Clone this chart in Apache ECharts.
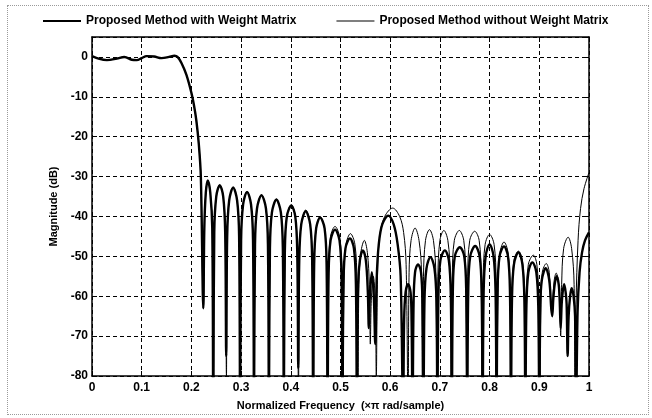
<!DOCTYPE html>
<html><head><meta charset="utf-8">
<script src="https://cdn.jsdelivr.net/npm/echarts@6/dist/echarts.min.js"></script>
<style>
html,body{margin:0;padding:0;background:#fff;}
#c{width:652px;height:418px;}
#frame{position:absolute;left:7px;top:5px;width:640px;height:408px;border:1px dotted #9a9a9a;pointer-events:none;}
</style></head>
<body><div id="c"></div><div id="frame"></div>
<script>
const legendNames = ['Proposed Method with Weight Matrix', 'Proposed Method without Weight Matrix'];
const xTicks = [0, 0.1, 0.2, 0.3, 0.4, 0.5, 0.6, 0.7, 0.8, 0.9, 1];
const yTicks = [-80, -70, -60, -50, -40, -30, -20, -10, 0];

const passband = [[0,0.2],[0.015,-0.5],[0.03,-0.8],[0.05,-0.4],[0.065,0],[0.08,-0.7],[0.09,-0.8],[0.1,-0.3],[0.11,0.2],[0.125,0.1],[0.14,-0.3],[0.155,0],[0.166,0.3],[0.172,0],[0.18,-1.5],[0.19,-4.5],[0.2,-9],[0.205,-12],[0.21,-16],[0.215,-22],[0.219,-30],[0.224,-63]];

const withWeightStop = [
[0.226,-43],[0.229,-34],[0.233,-31],[0.238,-34],[0.242,-43],[0.244,-90],
[0.246,-44],[0.250,-35],[0.257,-32.2],[0.264,-35],[0.268,-44],[0.270,-75],
[0.272,-45],[0.276,-36],[0.284,-32.8],[0.292,-36],[0.296,-45],[0.298,-90],
[0.300,-46],[0.304,-37],[0.312,-33.9],[0.320,-37],[0.324,-46],[0.326,-90],
[0.328,-47],[0.332,-38],[0.341,-34.7],[0.350,-38],[0.354,-47],[0.356,-90],
[0.358,-48],[0.362,-39],[0.371,-35.8],[0.380,-39],[0.384,-48],[0.386,-90],
[0.388,-49],[0.392,-40],[0.401,-37.3],[0.409,-40],[0.413,-49],[0.415,-78],
[0.417,-51],[0.421,-42],[0.430,-38.7],[0.439,-42],[0.443,-51],[0.445,-90],
[0.447,-52],[0.451,-43],[0.459,-40.3],[0.468,-43],[0.472,-52],[0.474,-90],
[0.476,-55],[0.480,-46],[0.489,-43.3],[0.498,-46],[0.502,-55],[0.504,-90],
[0.506,-57],[0.510,-48],[0.519,-45.5],[0.527,-48],[0.531,-57],[0.533,-90],
[0.535,-59],[0.539,-51],[0.545,-48.5],[0.551,-51],[0.555,-59],[0.557,-68],
[0.559,-60],[0.563,-54],[0.567,-60],[0.570,-72],
[0.573,-55],[0.577,-47],[0.584,-42],[0.596,-39.8],[0.607,-42],[0.615,-47],[0.621,-55],[0.626,-90],
[0.628,-66],[0.631,-59],[0.636,-57],[0.641,-59],[0.643,-66],[0.645,-90],
[0.647,-62],[0.650,-54],[0.656,-52],[0.662,-54],[0.665,-62],[0.667,-90],
[0.669,-61],[0.673,-53],[0.681,-50.2],[0.689,-53],[0.693,-61],[0.695,-90],
[0.697,-60],[0.701,-51],[0.710,-48.5],[0.718,-51],[0.722,-60],[0.724,-90],
[0.726,-59],[0.730,-50],[0.740,-47.7],[0.749,-50],[0.753,-59],[0.755,-90],
[0.757,-59],[0.761,-50],[0.771,-47.4],[0.780,-50],[0.784,-59],[0.786,-90],
[0.788,-59],[0.792,-50],[0.800,-47],[0.808,-50],[0.812,-59],[0.814,-90],
[0.816,-59],[0.820,-50],[0.829,-47.5],[0.837,-50],[0.841,-59],[0.843,-90],
[0.845,-61],[0.849,-52],[0.858,-49],[0.866,-52],[0.870,-61],[0.872,-90],
[0.874,-63],[0.878,-54],[0.886,-51.5],[0.894,-54],[0.898,-63],[0.900,-90],
[0.902,-63],[0.905,-56],[0.913,-53],[0.920,-56],[0.924,-63],[0.926,-65],
[0.928,-61],[0.931,-57],[0.935,-55],[0.939,-57],[0.941,-61],[0.943,-68],
[0.945,-62],[0.947,-59],[0.950,-57],[0.953,-59],[0.955,-62],[0.957,-75],
[0.959,-65],[0.962,-60],[0.965,-58],[0.969,-60],[0.972,-65],[0.974,-90],
[0.977,-64],[0.981,-54],[0.986,-49],[0.992,-46],[1.0,-44]
];

const withoutWeightStop = [
[0.226,-43],[0.229,-34],[0.233,-30.8],[0.238,-34],[0.242,-43],[0.2445,-90],
[0.246,-44],[0.250,-35],[0.257,-32],[0.264,-35],[0.268,-44],[0.2705,-80],
[0.272,-45],[0.276,-36],[0.284,-32.6],[0.292,-36],[0.296,-45],[0.2985,-90],
[0.300,-46],[0.304,-37],[0.312,-33.7],[0.320,-37],[0.324,-46],[0.3265,-90],
[0.328,-47],[0.332,-38],[0.341,-34.5],[0.350,-38],[0.354,-47],[0.3565,-90],
[0.358,-48],[0.362,-39],[0.371,-35.6],[0.380,-39],[0.384,-48],[0.3865,-90],
[0.388,-49],[0.392,-40],[0.401,-37],[0.409,-40],[0.413,-49],[0.4155,-90],
[0.417,-51],[0.421,-42],[0.430,-38.4],[0.439,-42],[0.443,-51],[0.4455,-90],
[0.447,-52],[0.451,-43],[0.459,-40],[0.468,-43],[0.472,-52],[0.4745,-90],
[0.476,-54],[0.480,-45],[0.489,-42.5],[0.498,-45],[0.503,-54],[0.505,-90],
[0.507,-56],[0.511,-47],[0.520,-44.3],[0.529,-47],[0.533,-56],[0.535,-90],
[0.537,-57],[0.541,-49],[0.548,-46],[0.554,-49],[0.558,-57],[0.560,-72],
[0.562,-61],[0.566,-55],[0.570,-61],[0.572,-80],
[0.575,-52],[0.580,-44],[0.589,-40],[0.605,-37.9],[0.619,-40],[0.627,-44],[0.632,-52],[0.636,-90],
[0.638,-54],[0.642,-46],[0.650,-42.9],[0.658,-46],[0.663,-54],[0.665,-90],
[0.667,-55],[0.671,-46],[0.679,-43.3],[0.687,-46],[0.692,-55],[0.694,-90],
[0.696,-55],[0.700,-46],[0.708,-43.5],[0.716,-46],[0.721,-55],[0.723,-90],
[0.725,-55],[0.729,-46],[0.739,-43.5],[0.748,-46],[0.752,-55],[0.754,-90],
[0.756,-55],[0.760,-46],[0.770,-43.7],[0.779,-46],[0.783,-55],[0.785,-90],
[0.787,-56],[0.791,-47],[0.800,-44.5],[0.809,-47],[0.813,-56],[0.815,-90],
[0.817,-58],[0.821,-49],[0.829,-46.4],[0.837,-49],[0.841,-58],[0.843,-90],
[0.845,-60],[0.849,-51],[0.858,-48.7],[0.866,-51],[0.870,-60],[0.872,-90],
[0.874,-61],[0.878,-52],[0.888,-49.7],[0.895,-52],[0.899,-61],[0.901,-90],
[0.903,-62],[0.906,-54],[0.914,-51.8],[0.920,-54],[0.923,-62],[0.925,-64],
[0.927,-61],[0.930,-56],[0.934,-54.2],[0.938,-56],[0.941,-61],[0.943,-70],
[0.945,-57],[0.949,-48],[0.958,-45.2],[0.965,-48],[0.970,-57],[0.972,-90],
[0.974,-62],[0.978,-46],[0.983,-38],[0.990,-33],[1.0,-29]
];

const withWeight = passband.concat(withWeightStop);
const withoutWeight = passband.concat(withoutWeightStop);

const FONT = "'Liberation Sans', Arial, sans-serif";
const chart = echarts.init(document.getElementById('c'), null, {renderer: 'canvas'});
const dashed = {show: true, lineStyle: {color: '#000', type: [4, 3], width: 1}};
chart.setOption({
  animation: false,
  backgroundColor: '#fff',
  legend: {
    top: 10, left: 38, itemWidth: 38, itemHeight: 10, itemGap: 40,
    textStyle: {fontFamily: FONT, fontWeight: 'bold', fontSize: 12, color: '#000'},
    data: [{name: legendNames[0], icon: 'path://M0,4L40,4L40,6L0,6Z'}, {name: legendNames[1], icon: 'path://M0,4.5L40,4.5L40,5.5L0,5.5Z'}]
  },
  grid: {left: 92, right: 63, top: 37, bottom: 42, containLabel: false},
  xAxis: [{
    type: 'value', min: 0, max: 1, interval: 0.1, position: 'bottom',
    name: 'Normalized Frequency  (\u00d7\u03c0 rad/sample)', nameLocation: 'middle', nameGap: 24,
    nameTextStyle: {fontFamily: FONT, fontWeight: 'bold', fontSize: 11, color: '#000'},
    axisLine: {show: true, onZero: false, lineStyle: {color: '#000', width: 1.5}},
    axisTick: {show: true, inside: true, length: 5, lineStyle: {color: '#000'}},
    axisLabel: {margin: 6, fontFamily: FONT, fontWeight: 'bold', fontSize: 12, color: '#000',
      formatter: v => String(+v.toFixed(1))},
    splitLine: dashed
  }, {
    type: 'value', min: 0, max: 1, interval: 0.1, position: 'top',
    axisLine: {show: true, onZero: false, lineStyle: {color: '#000', width: 1.5}},
    axisTick: {show: true, inside: true, length: 5, lineStyle: {color: '#000'}},
    axisLabel: {show: false}, splitLine: {show: false}
  }],
  yAxis: [{
    type: 'value', min: -80, max: 5, interval: 10, position: 'left',
    name: 'Magnitude (dB)', nameLocation: 'middle', nameGap: 25, nameRotate: 90,
    nameTextStyle: {fontFamily: FONT, fontWeight: 'bold', fontSize: 11, color: '#000'},
    axisLine: {show: true, onZero: false, lineStyle: {color: '#000', width: 1.5}},
    axisTick: {show: true, inside: true, length: 5, lineStyle: {color: '#000'}},
    axisLabel: {margin: 4, showMaxLabel: false, fontFamily: FONT, fontWeight: 'bold', fontSize: 12, color: '#000',
      formatter: v => (yTicks.indexOf(v) >= 0 ? String(v) : '')},
    splitLine: dashed
  }, {
    type: 'value', min: -80, max: 5, interval: 10, position: 'right',
    axisLine: {show: true, onZero: false, lineStyle: {color: '#000', width: 1.5}},
    axisTick: {show: true, inside: true, length: 5, lineStyle: {color: '#000'}},
    axisLabel: {show: false}, splitLine: {show: false}
  }],
  series: [{
    name: legendNames[1], type: 'line', data: withoutWeight, showSymbol: false, smooth: 0.35,
    clip: true, lineStyle: {color: '#000', width: 1}, itemStyle: {color: '#000'}, z: 3
  }, {
    name: legendNames[0], type: 'line', data: withWeight, showSymbol: false, smooth: 0.35,
    clip: true, lineStyle: {color: '#000', width: 2.4}, itemStyle: {color: '#000'}, z: 4
  }]
});
</script></body></html>
